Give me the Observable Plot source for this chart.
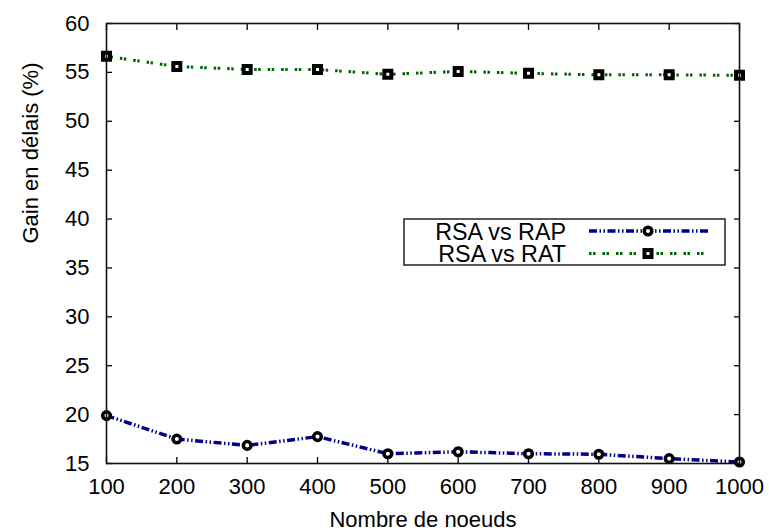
<!DOCTYPE html>
<html>
<head>
<meta charset="utf-8">
<script src="https://cdn.jsdelivr.net/npm/d3@7"></script>
<script src="https://cdn.jsdelivr.net/npm/@observablehq/plot@0.6"></script>
<style>
  html, body { margin: 0; padding: 0; background: #fff; }
</style>
</head>
<body>
<div id="chart"></div>
<script>
const nodes = [100, 200, 300, 400, 500, 600, 700, 800, 900, 1000];
const rsaVsRap = [19.9, 17.5, 16.85, 17.75, 16.0, 16.2, 16.0, 15.95, 15.5, 15.15];
const rsaVsRat = [56.65, 55.6, 55.3, 55.3, 54.8, 55.1, 54.9, 54.75, 54.75, 54.7];
const seriesNames = ["RSA vs RAP", "RSA vs RAT"];
const xTicks = [100, 200, 300, 400, 500, 600, 700, 800, 900, 1000];
const yTicks = [15, 20, 25, 30, 35, 40, 45, 50, 55, 60];
const xLabel = "Nombre de noeuds";
const yLabel = "Gain en délais (%)";

const rap = nodes.map((x, i) => ({x, y: rsaVsRap[i]}));
const rat = nodes.map((x, i) => ({x, y: rsaVsRat[i]}));

const blue = "#00008b";
const green = "#006400";
const rapDash = "8,2.5,1.5,2.5,1.5,2.5";
const ratDash = "2.5,1.5,2.5,7";

const chart = Plot.plot({
  width: 769,
  height: 531,
  marginLeft: 106,
  marginRight: 30,
  marginTop: 23,
  marginBottom: 68,
  style: {fontFamily: "'Liberation Sans', Arial, Helvetica, sans-serif", fontSize: "22px", background: "#fff", color: "#000"},
  x: {domain: [100, 1000]},
  y: {domain: [15, 60]},
  marks: [
    Plot.axisX({ticks: xTicks, anchor: "bottom", tickSize: 0, tickPadding: 15, tickFormat: d => String(d), label: null}),
    Plot.axisX({ticks: xTicks, anchor: "bottom", tickSize: 6, dy: -6, tickFormat: () => "", label: null, strokeWidth: 1.3}),
    Plot.axisX({ticks: xTicks, anchor: "top", tickSize: 6, dy: 6, tickFormat: () => "", label: null, strokeWidth: 1.3}),
    Plot.axisY({ticks: yTicks, anchor: "left", tickSize: 0, tickPadding: 17, label: null}),
    Plot.axisY({ticks: yTicks, anchor: "left", tickSize: 6, dx: 6, tickFormat: () => "", label: null, strokeWidth: 1.3}),
    Plot.axisY({ticks: yTicks, anchor: "right", tickSize: 6, dx: -6, tickFormat: () => "", label: null, strokeWidth: 1.3}),
    Plot.text([xLabel], {frameAnchor: "bottom", dy: 56, lineAnchor: "middle", fontSize: 22}),
    Plot.text([yLabel], {frameAnchor: "left", dx: -76, rotate: -90, lineAnchor: "middle", fontSize: 22}),
    Plot.line(rap, {x: "x", y: "y", stroke: blue, strokeWidth: 3.5, strokeDasharray: rapDash, strokeLinecap: "butt"}),
    Plot.line(rat, {x: "x", y: "y", stroke: green, strokeWidth: 3, strokeDasharray: ratDash, strokeLinecap: "butt"}),
    Plot.dot(rap, {x: "x", y: "y", r: 3.8, fill: "#fff", stroke: "#000", strokeWidth: 3.5}),
    Plot.dot(rat, {x: "x", y: "y", symbol: "square", r: 3.95, fill: "#fff", stroke: "#000", strokeWidth: 4}),
    Plot.frame({stroke: "#111", strokeWidth: 1.6})
  ]
});

// Legend box (gnuplot-style, inside plot area)
const svg = d3.select(chart);
const lg = svg.append("g").attr("font-family", "'Liberation Sans', Arial, Helvetica, sans-serif").attr("font-size", 23.3);
lg.append("rect").attr("x", 404).attr("y", 219).attr("width", 321).attr("height", 46)
  .attr("fill", "#fff").attr("stroke", "#222").attr("stroke-width", 1.5);
const rows = [
  {name: seriesNames[0], color: blue, dash: rapDash, sw: 3.5, y: 231, base: 239.5, sym: "circle"},
  {name: seriesNames[1], color: green, dash: ratDash, sw: 3, y: 253.5, base: 261.7, sym: "square"}
];
rows.forEach(r => {
  lg.append("text").attr("x", 566).attr("y", r.base).attr("text-anchor", "end").attr("fill", "#000").text(r.name);
  lg.append("line").attr("x1", 589).attr("x2", 708).attr("y1", r.y).attr("y2", r.y)
    .attr("stroke", r.color).attr("stroke-width", r.sw).attr("stroke-dasharray", r.dash);
  if (r.sym === "circle") {
    lg.append("circle").attr("cx", 648).attr("cy", r.y).attr("r", 3.8)
      .attr("fill", "#fff").attr("stroke", "#000").attr("stroke-width", 3.5);
  } else {
    lg.append("rect").attr("x", 648 - 3.5).attr("y", r.y - 3.5).attr("width", 7).attr("height", 7)
      .attr("fill", "#fff").attr("stroke", "#000").attr("stroke-width", 4);
  }
});

document.getElementById("chart").appendChild(chart);
</script>
</body>
</html>
